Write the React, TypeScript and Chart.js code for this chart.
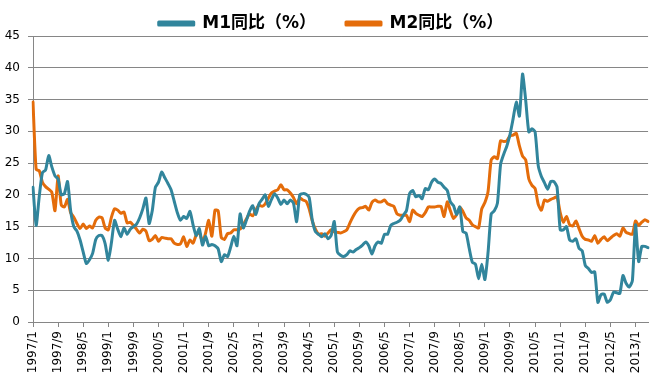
import React, { useEffect, useRef } from "react";
import { Chart, registerables } from "chart.js";

Chart.register(...registerables);

const startYear = 1997;
const monthCount = 197; // 1997/1 .. 2013/5

const seriesNames = ["M1同比（%）", "M2同比（%）"];

// M1 year-on-year growth (%), monthly from 1997/1
const m1Yoy: number[] = [
  21.2, 15.2, 19.8, 23.5, 23.9, 26.2, 24.4, 23.0, 22.5, 20.0, 20.2, 22.1,
  17.5, 15.0, 14.3, 12.9, 11.0, 9.2, 9.8, 10.8, 13.0, 13.6, 13.6, 12.3,
  9.7, 12.5, 16.0, 14.6, 13.4, 14.8, 13.8, 14.6, 15.0, 15.4, 16.4, 17.8,
  19.5, 15.5, 17.5, 21.2, 22.0, 23.6, 22.7, 21.8, 20.8, 19.0, 17.2, 16.0,
  16.6, 16.3, 17.4, 15.3, 13.6, 14.7, 12.1, 13.5, 12.0, 12.2, 12.0, 11.5,
  9.5, 10.6, 10.3, 11.8, 13.5, 12.0, 17.0, 14.8, 16.0, 17.4, 18.3, 16.9,
  18.6, 19.3, 20.0, 18.2, 19.3, 20.2, 19.5, 18.5, 19.2, 18.6, 19.2, 18.7,
  15.8, 20.0, 20.2, 20.1, 19.6, 16.0, 14.2, 13.8, 13.4, 13.9, 13.1, 13.6,
  15.8, 11.0, 10.5, 10.3, 10.6, 11.2, 11.0, 11.4, 11.7, 12.1, 12.6, 12.0,
  10.7, 12.0, 12.6, 12.4, 13.8, 13.8, 15.2, 15.5, 15.7, 16.0, 16.8, 17.5,
  20.2, 20.7, 19.7, 19.9, 19.4, 21.0, 20.8, 22.0, 22.5, 22.0, 21.8, 21.2,
  20.7, 18.9, 18.3, 16.9, 18.1, 14.2, 14.0, 11.6, 9.4, 9.1, 6.8, 9.1,
  6.7, 10.9, 17.0, 17.5, 18.7, 24.8, 26.4, 27.7, 29.5, 32.0, 34.6, 32.4,
  39.0, 34.9, 29.9, 30.4, 29.9, 24.6, 22.9, 21.9, 20.9, 22.1, 22.1, 21.2,
  14.5, 14.5, 15.0, 12.9, 12.7, 13.1, 11.6, 11.2, 8.9, 8.4, 7.8, 7.9,
  3.1, 4.3, 4.4, 3.1, 3.5, 4.7, 4.6, 4.5, 7.3, 6.1, 5.5, 6.5,
  15.3, 9.5, 11.9, 11.9, 11.7,
];

// M2 year-on-year growth (%), monthly from 1997/1
const m2Yoy: number[] = [
  34.6, 24.0, 23.8, 22.0, 21.3, 20.9, 20.4, 17.5, 23.0, 18.4, 18.1, 19.3,
  17.2, 16.5, 15.5, 14.7, 15.4, 14.7, 15.1, 14.8, 16.0, 16.5, 16.4, 14.8,
  14.5, 16.5, 17.8, 17.6, 17.1, 17.3, 15.6, 15.7, 15.2, 14.6, 14.0, 14.6,
  14.3, 12.8, 13.0, 13.6, 12.7, 13.3, 13.2, 13.1, 13.1, 12.4, 12.2, 12.3,
  13.4, 11.9, 12.9, 12.4, 13.7, 14.1, 12.6, 14.0, 16.0, 13.5, 17.6, 17.5,
  13.3, 13.0, 13.9, 14.0, 14.5, 14.5, 14.6, 15.3, 16.2, 17.0, 16.7, 17.6,
  18.4, 18.2, 18.6, 19.5, 20.3, 20.6, 20.8, 21.6, 20.8, 20.8, 20.3, 19.6,
  18.6, 19.5, 19.2, 19.0, 17.8, 15.9, 14.6, 13.8, 13.9, 13.5, 14.0, 14.5,
  14.2, 14.1, 14.0, 14.2, 14.5, 15.6, 16.6, 17.4, 17.9, 18.0, 18.2, 17.6,
  18.8, 19.2, 18.9, 18.9, 19.2, 18.6, 18.4, 18.2, 17.0, 16.8, 16.8, 16.8,
  15.8, 17.6, 17.1, 16.8, 16.6, 17.2, 18.1, 18.1, 18.1, 18.2, 18.2, 16.6,
  18.9, 17.5, 16.3, 16.9, 18.1, 17.4, 16.4, 16.0, 15.3, 15.0, 14.8, 17.8,
  18.8, 20.5, 25.5, 26.0, 25.7, 28.5, 28.4, 28.5, 29.3, 29.4, 29.7, 27.7,
  26.1, 25.5, 22.5, 21.5, 21.0, 18.5, 17.6, 19.2, 19.0, 19.3, 19.5, 19.7,
  17.2, 15.7, 16.6, 15.3, 15.1, 15.9, 14.7, 13.5, 13.0, 12.9, 12.7, 13.6,
  12.4, 13.0, 13.4, 12.8, 13.2, 13.6, 13.9, 13.5, 14.8, 14.1, 13.9, 13.8,
  15.9, 15.2, 15.7, 16.1, 15.8,
];

const yTicks = { min: 0, max: 45, step: 5 };
const labelEvery = 8;

const months: string[] = [];
for (let i = 0; i < monthCount; i++) {
  const y = startYear + Math.floor(i / 12);
  const m = (i % 12) + 1;
  months.push(`${y}/${m}`);
}

const colors = ["#31859C", "#E46C0A"];
const gridColor = "#868686";
const tickFont = { family: "'DejaVu Sans', sans-serif", size: 12 };

export default function App() {
  const ref = useRef<HTMLCanvasElement | null>(null);

  useEffect(() => {
    document.body.style.margin = "0";
    const canvas = ref.current;
    if (!canvas) return;
    const chart = new Chart(canvas, {
      type: "line",
      data: {
        labels: months,
        datasets: [m1Yoy, m2Yoy].map((d, k) => ({
          label: seriesNames[k],
          data: d,
          borderColor: colors[k],
          backgroundColor: colors[k],
          borderWidth: 3,
          pointRadius: 0,
          tension: 0.2,
          borderJoinStyle: "round" as const,
          borderCapStyle: "round" as const,
        })),
      },
      options: {
        animation: false,
        responsive: false,
        layout: { padding: { left: 0, right: 4, top: -21, bottom: 0 } },
        scales: {
          x: {
            grid: {
              drawOnChartArea: false,
              drawTicks: true,
              tickLength: 5,
              color: gridColor,
            },
            border: { color: gridColor },
            ticks: {
              autoSkip: false,
              maxRotation: 90,
              minRotation: 90,
              font: tickFont,
              color: "#000",
              padding: 4,
              callback: (_v: any, i: number) =>
                i % labelEvery === 0 ? months[i] : null,
            },
            afterFit: (s: any) => {
              s.height = 61;
            },
          },
          y: {
            min: yTicks.min,
            max: yTicks.max,
            ticks: {
              stepSize: yTicks.step,
              font: tickFont,
              color: "#000",
              padding: 8,
            },
            grid: { color: gridColor, tickLength: 5 },
            border: { color: gridColor },
            afterFit: (s: any) => {
              s.width = 33;
            },
          },
        },
        plugins: {
          legend: {
            position: "top",
            labels: {
              boxWidth: 35,
              boxHeight: 3,
              color: "#000",
              padding: 30,
              font: {
                family: "'DejaVu Sans', 'Noto Sans CJK SC', sans-serif",
                size: 17,
                weight: "bold",
              },
            },
          },
          tooltip: { enabled: false },
        },
      },
    });
    // nudge the legend a few pixels without moving the plot area
    const lg: any = chart.legend;
    if (lg) {
      const origDraw = lg.draw.bind(lg);
      lg.draw = (...args: any[]) => {
        const ctx = chart.ctx;
        ctx.save();
        ctx.translate(6, 6);
        origDraw(...args);
        ctx.restore();
      };
      chart.draw();
    }
    return () => chart.destroy();
  }, []);

  return (
    <div style={{ width: 654, height: 383 }}>
      <canvas ref={ref} width={654} height={383} />
    </div>
  );
}
